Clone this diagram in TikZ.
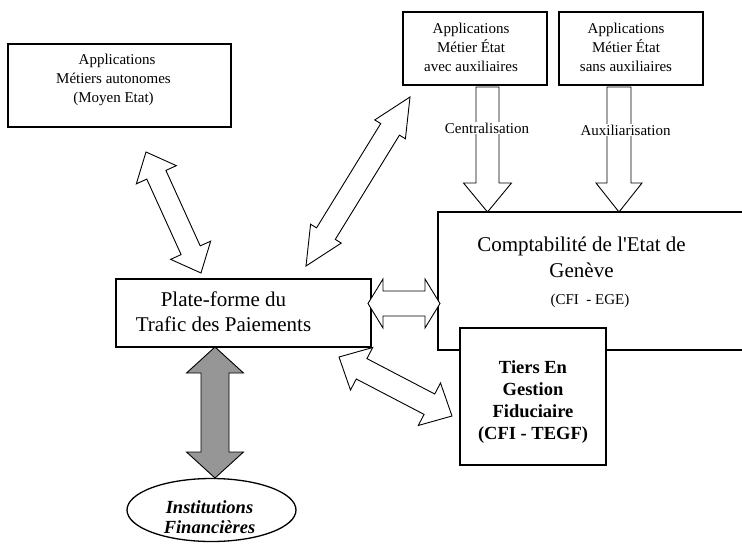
\documentclass[tikz,border=0pt]{standalone}
\usepackage{fontspec}
\setmainfont{Liberation Serif}
\usetikzlibrary{calc,shapes.geometric}

% double-headed block arrow: style, from, to, shaft half width, head half width, head length
\newcommand{\DblArrow}[6]{%
\path[#1] let \p1=(#2), \p2=(#3), \n1={atan2(\y2-\y1,\x2-\x1)} in
 (\p1)
 -- ($(\p1)+({\n1}:#6)+({\n1+90}:#5)$)
 -- ($(\p1)+({\n1}:#6)+({\n1+90}:#4)$)
 -- ($(\p2)+({\n1+180}:#6)+({\n1+90}:#4)$)
 -- ($(\p2)+({\n1+180}:#6)+({\n1+90}:#5)$)
 -- (\p2)
 -- ($(\p2)+({\n1+180}:#6)+({\n1-90}:#5)$)
 -- ($(\p2)+({\n1+180}:#6)+({\n1-90}:#4)$)
 -- ($(\p1)+({\n1}:#6)+({\n1-90}:#4)$)
 -- ($(\p1)+({\n1}:#6)+({\n1-90}:#5)$)
 -- cycle;}

% single-headed block arrow: style, tail, tip, shaft half width, head half width, head length
\newcommand{\OneArrow}[6]{%
\path[#1] let \p1=(#2), \p2=(#3), \n1={atan2(\y2-\y1,\x2-\x1)} in
 ($(\p1)+({\n1+90}:#4)$)
 -- ($(\p2)+({\n1+180}:#6)+({\n1+90}:#4)$)
 -- ($(\p2)+({\n1+180}:#6)+({\n1+90}:#5)$)
 -- (\p2)
 -- ($(\p2)+({\n1+180}:#6)+({\n1-90}:#5)$)
 -- ($(\p2)+({\n1+180}:#6)+({\n1-90}:#4)$)
 -- ($(\p1)+({\n1-90}:#4)$)
 -- cycle;}

\begin{document}
\begin{tikzpicture}[x=1pt,y=-1pt,
  box/.style={draw, line width=1.3pt, fill=white, inner sep=0pt},
  txt/.style={align=center, inner sep=0pt},
  small/.style={font=\fontsize{15}{19}\selectfont},
  barrow/.style={draw, line width=0.9pt, fill=white, line join=miter},
  garrow/.style={draw, line width=0.9pt, fill={rgb,255:red,150;green,150;blue,150}, line join=miter},
  lbl/.style={fill=white, inner sep=1pt, font=\fontsize{15}{18}\selectfont}
]
\useasboundingbox (0,0) rectangle (742,544);
\clip (0,0) rectangle (742,544);
\fill[white] (0,0) rectangle (742,544);

% boxes
\node[box, minimum width=223pt, minimum height=83pt] (tl) at (119.5,85.5) {};
\node[txt, small] (tlt) at (113.5,80) {\hspace*{7pt}Applications\\Métiers autonomes\hspace*{6pt}\\(Moyen Etat)};

\node[box, minimum width=144pt, minimum height=73pt] (am1) at (475,48.5) {};
\node[txt, small] (am1t) at (471,47) {Applications\\Métier État\\avec auxiliaires};

\node[box, minimum width=144pt, minimum height=73pt] (am2) at (631,48.5) {};
\node[txt, small] (am2t) at (626,47) {Applications\\Métier État\\sans auxiliaires};

\node[box, minimum width=322pt, minimum height=138pt] (compta) at (599,281) {};
\node[txt, font=\fontsize{21}{26}\selectfont] (comptat) at (581.5,257) {Comptabilité de l\textquotesingle Etat de\\Genève};
\node[txt, font=\fontsize{15}{18}\selectfont] (ege) at (590,301) {(CFI\ \ - EGE)};

\node[box, line width=2.5pt, minimum width=146pt, minimum height=137pt] (tiers) at (533,396.5) {};
\node[txt, font=\bfseries\fontsize{18.5}{22}\selectfont] (tierst) at (533,402) {Tiers En\\Gestion\\Fiduciaire\\(CFI - TEGF)};

\node[box, minimum width=255pt, minimum height=68pt] (ptp) at (243.5,313) {};
\node[txt, font=\fontsize{21}{25}\selectfont] (ptpt) at (223.5,312) {Plate-forme du\\Trafic des Paiements};

\node[draw, ellipse, line width=1.3pt, fill=white, minimum width=169pt, minimum height=63pt, inner sep=0pt] (inst) at (211.5,510) {};
\node[txt, font=\bfseries\itshape\fontsize{18.5}{20}\selectfont] (instt) at (209.5,517) {Institutions\\Financières};

% arrow end points
\coordinate (d1a) at (146,152);   \coordinate (d1b) at (201,273);
\coordinate (d2a) at (410,97);    \coordinate (d2b) at (306,266);
\coordinate (h1a) at (368,303.5); \coordinate (h1b) at (440,303.5);
\coordinate (t1a) at (339,357);   \coordinate (t1b) at (452,416);
\coordinate (g1a) at (215,347);   \coordinate (g1b) at (215,478);
\coordinate (c1a) at (487.5,87);  \coordinate (c1b) at (487.5,212);
\coordinate (c2a) at (619,87);    \coordinate (c2b) at (619,212);

\DblArrow{barrow}{d1a}{d1b}{10.5pt}{22pt}{25pt}
\DblArrow{barrow}{d2a}{d2b}{11pt}{18pt}{38pt}
\DblArrow{barrow}{h1a}{h1b}{12.5pt}{24.5pt}{15pt}
\DblArrow{barrow}{t1a}{t1b}{11.5pt}{24pt}{25.5pt}
\DblArrow{garrow}{g1a}{g1b}{14pt}{28.5pt}{26pt}
\OneArrow{barrow}{c1a}{c1b}{11.5pt}{24pt}{29pt}
\OneArrow{barrow}{c2a}{c2b}{12pt}{23pt}{29pt}

\node[lbl] (cen) at (487,128) {Centralisation};
\node[lbl] (aux) at (625.5,130) {Auxiliarisation};
\end{tikzpicture}
\end{document}
